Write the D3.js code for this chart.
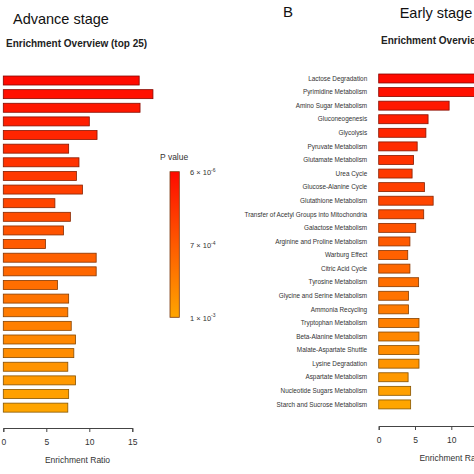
<!DOCTYPE html>
<head>
  <meta charset="utf-8">
  <script src="https://cdn.jsdelivr.net/npm/d3@7"></script>
  <style>
    body { margin: 0; background: #fff; }
    text { font-family: "Liberation Sans", Arial, sans-serif; }
  </style>
</head>
<body>
<svg width="474" height="474"></svg>

<script type="text/javascript">

// Advance stage: pathway names sit outside the cropped picture, only ratios are visible
var advanceRatio = [15.8, 17.4, 15.9, 10.0, 10.9, 7.6, 8.8, 8.5, 9.2, 6.0, 7.8, 7.0, 4.9,
                    10.8, 10.8, 6.3, 7.6, 7.5, 7.9, 8.4, 8.2, 7.5, 8.4, 7.6, 7.5];
var advanceP = [6e-6, 6e-5, 1.2e-4, 1.8e-4, 2.4e-4, 2.9e-4, 3.5e-4, 4.1e-4, 4.7e-4, 5.2e-4, 5.8e-4, 6.4e-4, 7.0e-4,
                7.3e-4, 7.5e-4, 7.8e-4, 8.0e-4, 8.3e-4, 8.5e-4, 8.8e-4, 9.0e-4, 9.3e-4, 9.5e-4, 9.8e-4, 1.0e-3];

// Early stage
var earlyPathways = ["Lactose Degradation", "Pyrimidine Metabolism", "Amino Sugar Metabolism",
  "Gluconeogenesis", "Glycolysis", "Pyruvate Metabolism", "Glutamate Metabolism", "Urea Cycle",
  "Glucose-Alanine Cycle", "Glutathione Metabolism", "Transfer of Acetyl Groups into Mitochondria",
  "Galactose Metabolism", "Arginine and Proline Metabolism", "Warburg Effect", "Citric Acid Cycle",
  "Tyrosine Metabolism", "Glycine and Serine Metabolism", "Ammonia Recycling", "Tryptophan Metabolism",
  "Beta-Alanine Metabolism", "Malate-Aspartate Shuttle", "Lysine Degradation", "Aspartate Metabolism",
  "Nucleotide Sugars Metabolism", "Starch and Sucrose Metabolism"];
var earlyRatio = [17.0, 16.0, 9.7, 6.8, 6.5, 5.3, 4.8, 4.6, 6.3, 7.5, 6.2, 5.1, 4.3,
                  4.0, 4.3, 5.5, 4.1, 4.1, 5.55, 5.55, 5.55, 5.55, 4.05, 4.4, 4.4];
var earlyP = [6e-6, 6e-5, 1.2e-4, 1.8e-4, 2.4e-4, 2.9e-4, 3.5e-4, 4.1e-4, 4.7e-4, 5.2e-4, 5.8e-4, 6.4e-4, 7.0e-4,
              7.3e-4, 7.5e-4, 7.8e-4, 8.0e-4, 8.3e-4, 8.5e-4, 8.8e-4, 9.0e-4, 9.3e-4, 9.5e-4, 9.8e-4, 1.0e-3];

var ratioTicks = [0, 5, 10, 15];
var legendP = [6e-6, 7e-4, 1e-3];
var legendLabels = [["6 \u00d7 10", "-6"], ["7 \u00d7 10", "-4"], ["1 \u00d7 10", "-3"]];

var svg = d3.select("svg");

// p value -> heat colour, same as the colour bar
var color = d3.scaleLinear()
    .domain(legendP)
    .range(["#ff0a00", "#ff5a00", "#ffa500"]);

function drawPanel(opt) {
  var n = opt.ratio.length;
  var x = d3.scaleLinear().domain([0, 15]).range([opt.x0, opt.x0 + opt.unit * 15]);
  var y = d3.scaleBand()
      .domain(d3.range(n))
      .range([opt.top, opt.top + opt.step * n])
      .paddingInner(0.34).paddingOuter(0.17);

  var g = svg.append("g");

  g.selectAll("rect.bar")
    .data(opt.ratio)
    .enter()
    .append("rect")
      .attr("class", "bar")
      .attr("x", x(0))
      .attr("y", function(d, i) { return y(i); })
      .attr("width", function(d) { return x(d) - x(0); })
      .attr("height", y.bandwidth())
      .style("fill", function(d, i) { return color(opt.p[i]); })
      .style("stroke", function(d, i) { return d3.color(color(opt.p[i])).darker(1.8); })
      .style("stroke-width", 0.8);

  if (opt.labels) {
    g.selectAll("text.lab")
      .data(opt.labels)
      .enter()
      .append("text")
        .attr("class", "lab")
        .attr("x", x(0) - 11.5)
        .attr("y", function(d, i) { return y(i) + y.bandwidth() / 2; })
        .attr("dy", "0.35em")
        .attr("text-anchor", "end")
        .style("font-size", "6.4px")
        .style("fill", "#333")
        .text(function(d) { return d; });
  }

  var axis = g.append("g")
      .attr("transform", "translate(0," + opt.axisY + ")")
      .call(d3.axisBottom(x).tickValues(ratioTicks).tickSize(4).tickPadding(7));
  axis.select(".domain").attr("stroke", "#444");
  axis.selectAll(".tick line").attr("stroke", "#444");
  axis.selectAll(".tick text").style("font-size", "8.5px").style("fill", "#333")
      .style("font-family", "Liberation Sans, Arial, sans-serif");

  g.append("text")
    .attr("x", opt.xLabelX)
    .attr("y", opt.axisY + 35)
    .attr("text-anchor", "middle")
    .style("font-size", "8.5px")
    .style("fill", "#333")
    .text("Enrichment Ratio");

  g.append("text")
    .attr("x", opt.subX)
    .attr("y", opt.subY)
    .style("font-size", "10px")
    .style("font-weight", "bold")
    .style("fill", "#222")
    .text("Enrichment Overview (top 25)");
}

drawPanel({ ratio: advanceRatio, p: advanceP, x0: 3.3, unit: 8.6, top: 73.7, step: 13.63,
            axisY: 428, xLabelX: 77.5, subX: 6, subY: 46.7 });
drawPanel({ ratio: earlyRatio, p: earlyP, labels: earlyPathways, x0: 378.7, unit: 7.26, top: 71.7, step: 13.58,
            axisY: 426, xLabelX: 452, subX: 381, subY: 44 });

// colour bar legend
var defs = svg.append("defs");
var grad = defs.append("linearGradient").attr("id", "pgrad")
    .attr("x1", 0).attr("y1", 0).attr("x2", 0).attr("y2", 1);
grad.selectAll("stop")
  .data(legendP)
  .enter()
  .append("stop")
    .attr("offset", function(d, i) { return i / (legendP.length - 1); })
    .attr("stop-color", function(d) { return color(d); });

var legY = d3.scalePoint().domain(d3.range(legendP.length)).range([171.7, 317.3]);

svg.append("rect")
  .attr("x", 170).attr("y", 171.7)
  .attr("width", 9.3).attr("height", 145.6)
  .style("fill", "url(#pgrad)")
  .style("stroke", "#7a3a10")
  .style("stroke-width", 0.8);

svg.append("text")
  .attr("x", 160).attr("y", 160)
  .style("font-size", "8.5px").style("fill", "#333")
  .text("P value");

var lt = svg.selectAll("text.leg")
  .data(legendLabels)
  .enter()
  .append("text")
    .attr("class", "leg")
    .attr("x", 190)
    .attr("y", function(d, i) { return legY(i) + 3.5; })
    .style("font-size", "7.5px").style("fill", "#333");
lt.append("tspan").text(function(d) { return d[0]; });
lt.append("tspan").attr("dy", -3.5).style("font-size", "5px").text(function(d) { return d[1]; });

// panel titles
svg.append("text").attr("x", 13).attr("y", 24)
  .style("font-size", "14.5px").style("fill", "#111").text("Advance stage");
svg.append("text").attr("x", 283).attr("y", 16.7)
  .style("font-size", "15px").style("fill", "#111").text("B");
svg.append("text").attr("x", 399.7).attr("y", 18.3)
  .style("font-size", "14.5px").style("fill", "#111").text("Early stage");
</script>

</body>
</html>
